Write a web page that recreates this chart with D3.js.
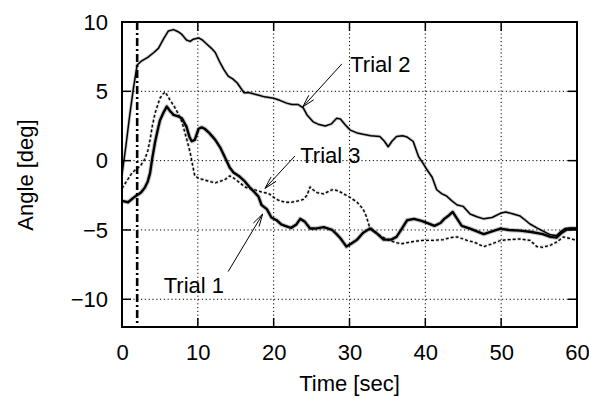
<!DOCTYPE html>
<html><head><meta charset="utf-8">
<script src="https://cdn.jsdelivr.net/npm/d3@7/dist/d3.min.js"></script>
<style>
html,body{margin:0;padding:0;background:#fff;}
text{font-family:"Liberation Sans",Arial,Helvetica,sans-serif;fill:#000;}
</style></head>
<body>
<svg id="chart" width="589" height="398"></svg>
<script>
// ---- data ----
const xTicks = [0,10,20,30,40,50,60];
const yTicks = [-10,-5,0,5,10];
const markerTime = 2;

const trial1T = [0,0.8,1.7,2.5,3.0,3.4,3.7,4.0,4.35,4.7,5.0,5.5,5.9,6.3,6.8,7.4,7.9,8.5,8.9,9.2,9.6,10.1,10.5,10.9,11.5,12.3,13.0,13.6,14.2,14.7,15.4,16.2,16.8,17.5,18.0,18.4,19.1,19.7,20.4,21.0,21.5,22.3,23.0,23.5,24.1,24.8,25.5,26.6,27.7,28.3,28.8,29.6,30.2,31.0,31.8,32.7,33.5,34.5,35.5,36.2,36.8,37.6,38.5,39.5,40.3,41.2,42.0,42.5,43.0,43.6,44.2,44.8,45.9,46.8,47.7,48.8,49.9,51.0,52.5,54.0,55.5,56.5,57.3,58.0,58.7,60];
const trial1V = [-2.9,-3.0,-2.6,-2.3,-1.95,-1.5,-0.9,0.2,1.3,2.2,2.9,3.5,3.9,3.6,3.3,3.2,3.05,2.45,1.7,1.4,1.5,2.3,2.4,2.3,2.0,1.5,0.9,0.2,-0.5,-0.85,-1.1,-1.5,-1.9,-2.3,-2.6,-3.2,-3.5,-4.1,-4.3,-4.6,-4.7,-4.85,-4.6,-4.2,-4.4,-4.9,-4.9,-4.8,-5.0,-5.3,-5.6,-6.2,-6.0,-5.7,-5.2,-4.9,-5.2,-5.7,-5.7,-5.5,-5.0,-4.3,-4.2,-4.35,-4.5,-4.7,-4.5,-4.2,-4.0,-3.7,-4.2,-4.7,-4.9,-5.1,-5.3,-5.1,-4.9,-5.0,-5.05,-5.15,-5.3,-5.5,-5.55,-5.2,-4.95,-4.9];

const trial2T = [0,0.5,1.0,1.5,2.0,2.6,3.4,4.2,4.8,5.5,6.1,6.8,7.4,7.9,8.5,9.0,9.4,10.1,10.6,11.2,11.8,12.3,12.9,13.4,14.0,14.6,15.2,15.7,16.1,16.8,17.8,18.8,20.0,20.8,21.7,22.4,23.2,23.9,24.4,25.2,26.0,26.8,27.6,28.3,28.8,29.4,30.1,31.0,31.8,32.8,34.0,34.6,35.1,35.6,36.2,37.0,37.6,38.4,39.1,39.7,40.2,40.9,41.5,42.2,42.8,43.5,44.2,45.0,45.9,46.8,47.7,48.8,49.9,50.6,51.6,52.5,53.2,53.8,54.7,55.6,56.5,57.3,57.9,58.4,59.2,60];
const trial2V = [-1.0,1.0,3.2,5.2,6.9,7.2,7.45,7.8,8.1,8.8,9.35,9.45,9.3,9.1,8.7,8.6,8.76,8.85,8.7,8.4,8.1,7.8,7.1,6.6,6.1,5.9,5.6,5.2,4.9,4.9,4.75,4.6,4.5,4.35,4.15,4.05,4.05,3.8,3.3,2.8,2.6,2.5,2.65,3.05,3.0,2.6,2.2,2.0,1.9,1.8,1.74,1.4,1.0,1.4,1.74,1.8,1.7,1.38,0.3,-0.2,-0.64,-1.2,-2.1,-2.4,-2.55,-2.9,-3.2,-3.3,-3.85,-4.05,-4.2,-4.1,-3.8,-3.7,-3.85,-4.0,-4.3,-4.57,-4.85,-5.1,-5.35,-5.4,-5.1,-4.9,-4.85,-4.9];

const trial3T = [0,0.6,1.3,1.9,2.4,3.0,3.4,3.7,4.0,4.35,4.7,5.0,5.4,5.7,6.3,6.9,7.4,7.9,8.3,8.7,9.0,9.3,9.6,10.2,10.9,11.6,12.3,12.9,13.6,14.2,14.6,15.3,16.0,16.4,17.5,18.6,19.3,20.0,20.6,21.5,22.4,23.2,23.9,24.4,24.8,25.2,25.7,26.6,27.3,27.9,28.6,29.4,30.2,31.0,31.8,32.2,32.6,33.2,34.0,35.0,36.0,36.8,37.8,38.8,39.7,41.0,42.4,43.3,44.2,45.5,46.5,47.7,48.8,49.9,51.0,52.5,53.8,54.7,55.5,56.5,57.4,58.2,59.0,60];
const trial3V = [-2.0,-1.5,-0.9,-0.6,-0.4,0.1,0.7,1.5,2.5,3.4,4.0,4.5,4.8,4.95,4.4,3.9,3.4,2.8,2.0,1.2,0.55,-0.3,-1.1,-1.3,-1.4,-1.5,-1.6,-1.5,-1.36,-1.1,-1.2,-1.5,-1.8,-1.95,-2.1,-2.3,-2.35,-2.65,-2.85,-3.0,-3.0,-2.9,-2.8,-2.5,-1.9,-2.1,-2.3,-2.4,-2.2,-2.07,-2.2,-2.45,-2.7,-3.0,-3.5,-4.0,-4.7,-5.1,-5.4,-5.7,-5.9,-6.0,-5.9,-5.8,-5.75,-5.75,-5.7,-5.55,-5.5,-5.75,-5.9,-6.2,-6.0,-5.76,-5.7,-5.65,-5.75,-6.2,-6.25,-6.1,-5.85,-5.5,-5.6,-5.76];

const labels = ["Trial 1","Trial 2","Trial 3"];
const labelT = [5.5, 30.1, 23.5];
const labelV = [-9.57, 6.39, -0.19];
const arrowFromT = [14.0, 29.0, 22.8];
const arrowFromV = [-8.0, 6.98, 0.33];
const arrowToT = [18.55, 23.84, 18.86];
const arrowToV = [-3.85, 3.88, -2.0];

// ---- chart ----
const svg = d3.select("#chart");
const L=122, R=577, T=22, B=327;
const x = d3.scaleLinear().domain([0,60]).range([L,R]);
const y = d3.scaleLinear().domain([-12,10]).range([B,T]);

// grid
const g = svg.append("g");
g.selectAll(".gx").data(xTicks.filter(d=>d>0&&d<60)).enter().append("line")
  .attr("x1",d=>x(d)).attr("x2",d=>x(d)).attr("y1",T).attr("y2",B)
  .attr("stroke","#000").attr("stroke-width",1).attr("stroke-dasharray","1.2,2.6");
g.selectAll(".gy").data(yTicks.filter(d=>d<10)).enter().append("line")
  .attr("y1",d=>y(d)).attr("y2",d=>y(d)).attr("x1",L).attr("x2",R)
  .attr("stroke","#000").attr("stroke-width",1).attr("stroke-dasharray","1.2,2.6");

// ticks (inward, both sides)
const tl = 9;
xTicks.filter(d=>d>0&&d<60).forEach(d=>{
  g.append("line").attr("x1",x(d)).attr("x2",x(d)).attr("y1",B).attr("y2",B-tl).attr("stroke","#000").attr("stroke-width",1.5);
  g.append("line").attr("x1",x(d)).attr("x2",x(d)).attr("y1",T).attr("y2",T+tl).attr("stroke","#000").attr("stroke-width",1.5);
});
yTicks.filter(d=>d<10).forEach(d=>{
  g.append("line").attr("y1",y(d)).attr("y2",y(d)).attr("x1",L).attr("x2",L+tl).attr("stroke","#000").attr("stroke-width",1.5);
  g.append("line").attr("y1",y(d)).attr("y2",y(d)).attr("x1",R).attr("x2",R-tl).attr("stroke","#000").attr("stroke-width",1.5);
});

// axes labels via d3 axes
const ax = svg.append("g").attr("transform",`translate(0,${B})`)
  .call(d3.axisBottom(x).tickValues(xTicks).tickSize(0).tickPadding(17).tickFormat(d3.format("d")));
ax.select(".domain").remove();
ax.selectAll("text").attr("font-size","22px").attr("font-family","Liberation Sans, Arial, sans-serif");
const ay = svg.append("g").attr("transform",`translate(${L},0)`)
  .call(d3.axisLeft(y).tickValues(yTicks).tickSize(0).tickPadding(14).tickFormat(d3.format("d")));
ay.select(".domain").remove();
ay.selectAll("text").attr("font-size","22px").attr("font-family","Liberation Sans, Arial, sans-serif");

svg.append("text").attr("x",(L+R)/2).attr("y",391).attr("text-anchor","middle")
  .attr("font-size","22px").text("Time [sec]");
svg.append("text").attr("transform","translate(33,175) rotate(-90)").attr("text-anchor","middle")
  .attr("font-size","22px").text("Angle [deg]");

// clip
svg.append("clipPath").attr("id","clip").append("rect").attr("x",L).attr("y",T).attr("width",R-L).attr("height",B-T);
const plot = svg.append("g").attr("clip-path","url(#clip)");

// marker vertical line
plot.append("line").attr("x1",x(markerTime)).attr("x2",x(markerTime)).attr("y1",T).attr("y2",B)
  .attr("stroke","#000").attr("stroke-width",2.6).attr("stroke-dasharray","8,3,2,3");

const line = d3.line().x(d=>x(d[0])).y(d=>y(d[1])).curve(d3.curveLinear);
const series = [
  {t:trial1T, v:trial1V, w:2.4, halo:4.5, dash:null},
  {t:trial2T, v:trial2V, w:1.5, halo:3.2, dash:null},
  {t:trial3T, v:trial3V, w:1.3, halo:3.0, dash:"3,2"}
];
series.forEach(s=>{
  const pts = s.t.map((t,i)=>[t,s.v[i]]);
  plot.append("path").attr("d",line(pts)).attr("fill","none").attr("stroke","#000")
    .attr("stroke-opacity",0.22).attr("stroke-width",s.halo).attr("stroke-linejoin","round")
    .attr("stroke-dasharray",s.dash);
  plot.append("path").attr("d",line(pts)).attr("fill","none").attr("stroke","#000")
    .attr("stroke-width",s.w).attr("stroke-linejoin","round").attr("stroke-dasharray",s.dash);
});

// frame
svg.append("rect").attr("x",L).attr("y",T).attr("width",R-L).attr("height",B-T)
  .attr("fill","none").attr("stroke","#000").attr("stroke-width",2);

// annotations
labels.forEach((lab,i)=>{
  svg.append("text").attr("x",x(labelT[i])).attr("y",y(labelV[i])).attr("font-size","22px").text(lab);
  const x1=x(arrowFromT[i]), y1=y(arrowFromV[i]), x2=x(arrowToT[i]), y2=y(arrowToV[i]);
  svg.append("line").attr("x1",x1).attr("y1",y1).attr("x2",x2).attr("y2",y2).attr("stroke","#000").attr("stroke-width",1);
  const ang = Math.atan2(y1-y2,x1-x2), len=13, spread=0.26;
  [ang-spread, ang+spread].forEach(a=>{
    svg.append("line").attr("x1",x2).attr("y1",y2)
      .attr("x2",x2+len*Math.cos(a)).attr("y2",y2+len*Math.sin(a))
      .attr("stroke","#000").attr("stroke-width",1);
  });
});
</script>
</body></html>
